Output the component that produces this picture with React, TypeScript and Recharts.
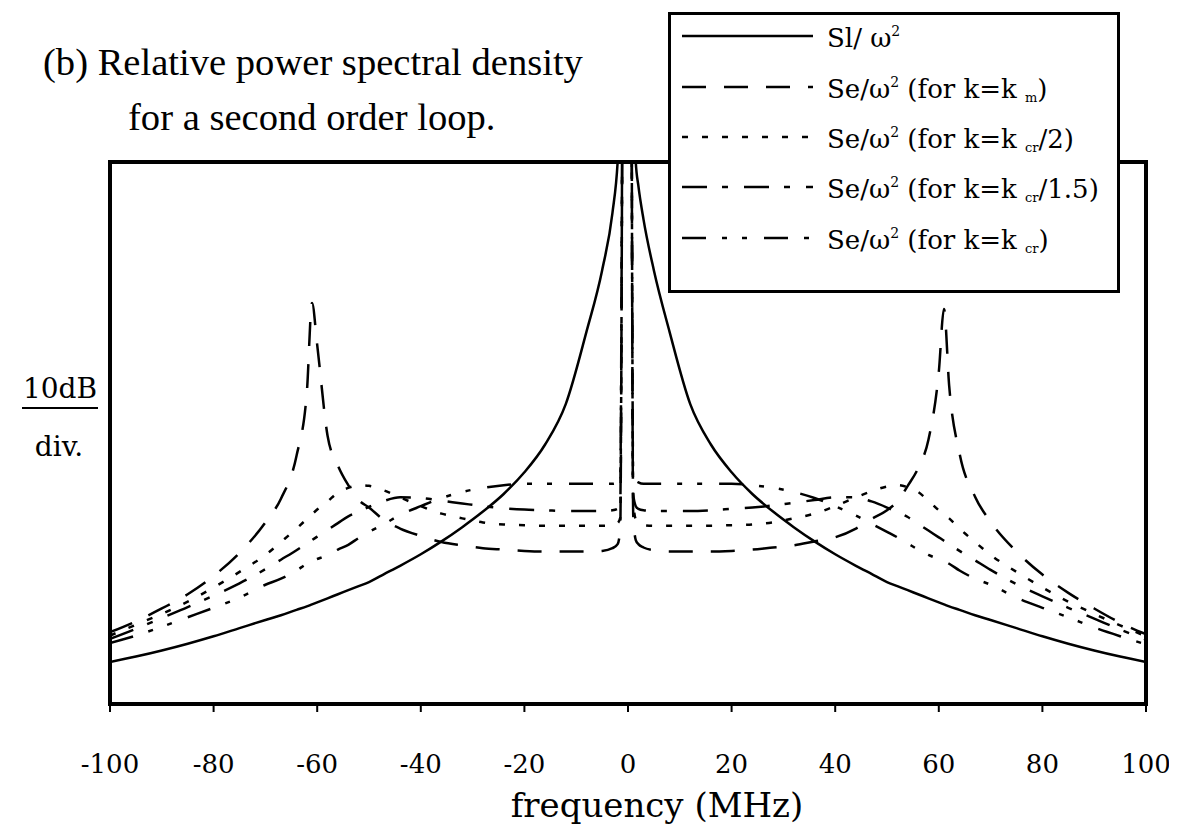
import React from 'react';
import { LineChart, Line, XAxis, YAxis, Legend, ReferenceArea } from 'recharts';

// frequency grid (MHz)
const freqs = [
  -100, -95, -90, -85, -80, -75, -70, -67, -64, -62, -61, -60, -58, -56, -54, -52, -50, -47, -44, -40,
  -36, -32, -28, -24, -20, -16, -12, -8, -5, -3, -2, -1.5, -1, -0.5,
  0,
  0.5, 1, 1.5, 2, 3, 5, 8, 12, 16, 20, 24, 28, 32, 36, 40, 44, 47, 50, 52, 54, 56, 58, 60, 61, 62,
  64, 67, 70, 75, 80, 85, 90, 95, 100,
];

// relative level in dB (10 dB per division, 0 = bottom of frame)
const slOmega = [
  6.2, 7.0, 7.9, 8.9, 10.0, 11.2, 12.4, 13.1, 13.9, 14.4, 14.7, 15.0, 15.6, 16.2, 16.8, 17.4, 18.0, 19.2, 20.4, 22.1,
  24.0, 26.1, 28.4, 31.0, 34.2, 38.3, 44.3, 55.0, 64.0, 72.5, 80.0, 88, 100, 130,
  150,
  130, 100, 80, 76.5, 71.5, 64.0, 55.0, 44.3, 38.3, 34.2, 31.0, 28.4, 26.1, 24.0, 22.1, 20.4, 19.2, 18.0, 17.4, 16.8, 16.2, 15.6, 15.0, 14.7, 14.4,
  13.9, 13.1, 12.4, 11.2, 10.0, 8.9, 7.9, 7.0, 6.2,
];

const seKm = [
  10.6, 12.2, 14.1, 16.2, 18.9, 22.3, 26.8, 30.3, 36.6, 46.0, 59.2, 53.0, 39.6, 35.2, 32.3, 30.1, 29.0, 27.1, 25.9, 24.8,
  23.9, 23.4, 23.0, 22.8, 22.6, 22.5, 22.5, 22.5, 22.6, 23.0, 23.6, 25.8, 100, 130,
  150,
  130, 28.0, 24.2, 23.6, 23.1, 22.7, 22.5, 22.5, 22.5, 22.6, 22.8, 23.1, 23.4, 24.0, 24.6, 25.9, 27.3, 28.6, 29.9, 32.2, 34.8, 39.0, 49.0, 58.3, 47.0,
  37.0, 30.6, 26.9, 22.5, 19.1, 16.4, 14.1, 12.0, 10.3,
];

const seKcrHalf = [
  10.1, 11.7, 13.3, 15.1, 17.2, 19.5, 22.0, 23.9, 25.9, 27.3, 28.0, 28.7, 29.9, 31.2, 31.9, 32.3, 32.2, 31.5, 30.5, 29.2,
  28.1, 27.4, 26.8, 26.5, 26.4, 26.3, 26.3, 26.3, 26.3, 26.4, 26.7, 27.5, 100, 130,
  150,
  130, 30.0, 27.2, 26.7, 26.4, 26.3, 26.3, 26.3, 26.3, 26.4, 26.5, 26.8, 27.4, 28.1, 29.2, 30.5, 31.4, 32.1, 32.3, 32.0, 31.3, 30.0, 28.6, 28.0, 27.4,
  25.9, 23.9, 22.0, 19.5, 17.2, 15.1, 13.3, 11.6, 10.0,
];

const seKcr15 = [
  9.6, 11.1, 12.7, 14.3, 16.0, 17.8, 19.9, 21.3, 22.7, 23.7, 24.2, 24.7, 25.7, 26.7, 27.7, 28.4, 29.1, 30.0, 30.5, 30.4,
  30.0, 29.6, 29.2, 28.9, 28.7, 28.6, 28.5, 28.5, 28.5, 28.6, 28.8, 29.5, 100, 130,
  150,
  130, 31.0, 29.2, 28.8, 28.6, 28.5, 28.5, 28.5, 28.6, 28.8, 29.0, 29.3, 29.7, 30.1, 30.5, 30.5, 29.9, 29.0, 28.3, 27.6, 26.6, 25.6, 24.6, 24.1, 23.6,
  22.6, 21.2, 19.8, 17.7, 15.9, 14.2, 12.6, 11.0, 9.5,
];

const seKcr = [
  9.0, 10.1, 11.4, 12.8, 14.2, 15.7, 17.6, 18.5, 19.7, 20.7, 21.1, 21.4, 22.0, 22.8, 23.5, 24.5, 25.4, 26.6, 27.9, 29.2,
  30.4, 31.3, 31.9, 32.3, 32.5, 32.5, 32.5, 32.5, 32.5, 32.5, 32.7, 33.3, 100, 130,
  150,
  130, 34.0, 33.0, 32.7, 32.5, 32.5, 32.5, 32.5, 32.5, 32.5, 32.3, 31.9, 31.3, 30.4, 29.2, 27.8, 26.6, 25.4, 24.6, 23.7, 22.8, 22.0, 21.4, 21.1, 20.7,
  19.7, 18.5, 17.6, 15.7, 14.2, 12.8, 11.3, 10.0, 8.8,
];

const xTicks = [-100, -80, -60, -40, -20, 0, 20, 40, 60, 80, 100];
const yTicks = [0, 10, 20, 30, 40, 50, 60, 70, 80];

const data = freqs.map((f, i) => ({
  f,
  sl: slOmega[i],
  km: seKm[i],
  kcr2: seKcrHalf[i],
  kcr15: seKcr15[i],
  kcr: seKcr[i],
}));

const W = 1169;
const H = 823;
const SERIF = '"DejaVu Serif", serif';

const series = [
  { key: 'sl', dash: undefined as string | undefined, sub: '', tail: '', first: true },
  { key: 'km', dash: '24 18', sub: 'm', tail: ')', first: false },
  { key: 'kcr2', dash: '6 14', sub: 'cr', tail: '/2)', first: false },
  { key: 'kcr15', dash: '25 15 6 16', sub: 'cr', tail: '/1.5)', first: false },
  { key: 'kcr', dash: '24 16 5 15 5 17', sub: 'cr', tail: ')', first: false },
];

const rowLineY = [21, 72, 122, 172, 223];

const renderLegend = () => (
  <div
    style={{
      width: 452,
      height: 281,
      boxSizing: 'border-box',
      border: '3px solid #000',
      background: '#fff',
    }}
  >
    <svg width={446} height={275} style={{ display: 'block' }}>
      {series.map((s, i) => (
        <g key={s.key}>
          <line
            x1={11}
            x2={142}
            y1={rowLineY[i]}
            y2={rowLineY[i]}
            stroke="#000"
            strokeWidth={2.5}
            strokeDasharray={s.dash}
          />
          <text
            x={156}
            y={rowLineY[i] + 11}
            fontFamily={SERIF}
            fontSize={26}
            fill="#000"
            style={{ whiteSpace: 'pre' }}
          >
            {s.first ? (
              <>
                <tspan>Sl/ ω</tspan>
                <tspan dy={-11} fontSize={14}>2</tspan>
              </>
            ) : (
              <>
                <tspan>Se/ω</tspan>
                <tspan dy={-11} fontSize={14}>2</tspan>
                <tspan dy={11}> (for k=k </tspan>
                <tspan dy={4} fontSize={13}>{s.sub}</tspan>
                <tspan dy={-4}>{s.tail}</tspan>
              </>
            )}
          </text>
        </g>
      ))}
    </svg>
  </div>
);

const XTick = (props: any) => {
  const { x, payload } = props;
  return (
    <text x={x} y={765} textAnchor="middle" fontFamily={SERIF} fontSize={26} fill="#000">
      {payload.value}
    </text>
  );
};

const XLabel = () => (
  <text x={649} y={809} textAnchor="middle" fontFamily={SERIF} fontSize={34} fill="#000">
    frequency (MHz)
  </text>
);

const YLabel = () => (
  <g>
    <text x={52} y={390} textAnchor="middle" fontFamily={SERIF} fontSize={28} fill="#000">
      10dB
    </text>
    <line x1={14} x2={90} y1={400} y2={400} stroke="#000" strokeWidth={2} />
    <text x={51} y={448} textAnchor="middle" fontFamily={SERIF} fontSize={28} fill="#000">
      div.
    </text>
  </g>
);

const titleStyle: React.CSSProperties = {
  position: 'absolute',
  fontFamily: '"Liberation Serif", serif',
  fontSize: 38.6,
  lineHeight: '38px',
  whiteSpace: 'nowrap',
  color: '#000',
};

export default function App() {
  return (
    <div style={{ position: 'relative', width: W, height: H, background: '#fff' }}>
      <div style={{ ...titleStyle, left: 35, top: 35 }}>(b) Relative power spectral density</div>
      <div style={{ ...titleStyle, left: 120, top: 90 }}>for a second order loop.</div>
      <LineChart width={W} height={H} data={data} margin={{ top: 154, right: 31, left: 92, bottom: 67 }}>
        <XAxis
          dataKey="f"
          type="number"
          domain={[-100, 100]}
          ticks={xTicks}
          interval={0}
          allowDataOverflow
          height={60}
          tickSize={8}
          axisLine={{ stroke: '#000', strokeWidth: 4 }}
          tickLine={{ stroke: '#000', strokeWidth: 2 }}
          tick={XTick}
          label={<XLabel />}
        />
        <XAxis
          xAxisId="inner"
          dataKey="f"
          type="number"
          domain={[-100, 100]}
          ticks={xTicks}
          interval={0}
          allowDataOverflow
          mirror
          height={0}
          tickSize={7}
          axisLine={false}
          tick={false}
          tickLine={{ stroke: '#000', strokeWidth: 2 }}
        />
        <YAxis
          type="number"
          domain={[0, 80]}
          ticks={yTicks}
          interval={0}
          allowDataOverflow
          width={10}
          tickSize={8}
          axisLine={{ stroke: '#000', strokeWidth: 4 }}
          tickLine={{ stroke: '#000', strokeWidth: 2 }}
          tick={false}
          label={<YLabel />}
        />
        <YAxis
          yAxisId="inner"
          type="number"
          domain={[0, 80]}
          ticks={yTicks}
          interval={0}
          allowDataOverflow
          mirror
          width={0}
          tickSize={9}
          axisLine={false}
          tick={false}
          tickLine={{ stroke: '#000', strokeWidth: 2 }}
        />
        <ReferenceArea
          x1={-100}
          x2={100}
          y1={0}
          y2={80}
          fill="none"
          fillOpacity={0}
          stroke="#000"
          strokeWidth={4}
          ifOverflow="visible"
        />
        {series.map((s) => (
          <Line
            key={s.key}
            dataKey={s.key}
            type="monotone"
            stroke="#000"
            strokeWidth={2.5}
            strokeDasharray={s.dash}
            dot={false}
            activeDot={false}
            isAnimationActive={false}
          />
        ))}
        <Legend
          layout="vertical"
          align="center"
          verticalAlign="middle"
          content={renderLegend}
          wrapperStyle={{ left: 660, top: 4, width: 452, height: 281, margin: 0 }}
        />
      </LineChart>
    </div>
  );
}
